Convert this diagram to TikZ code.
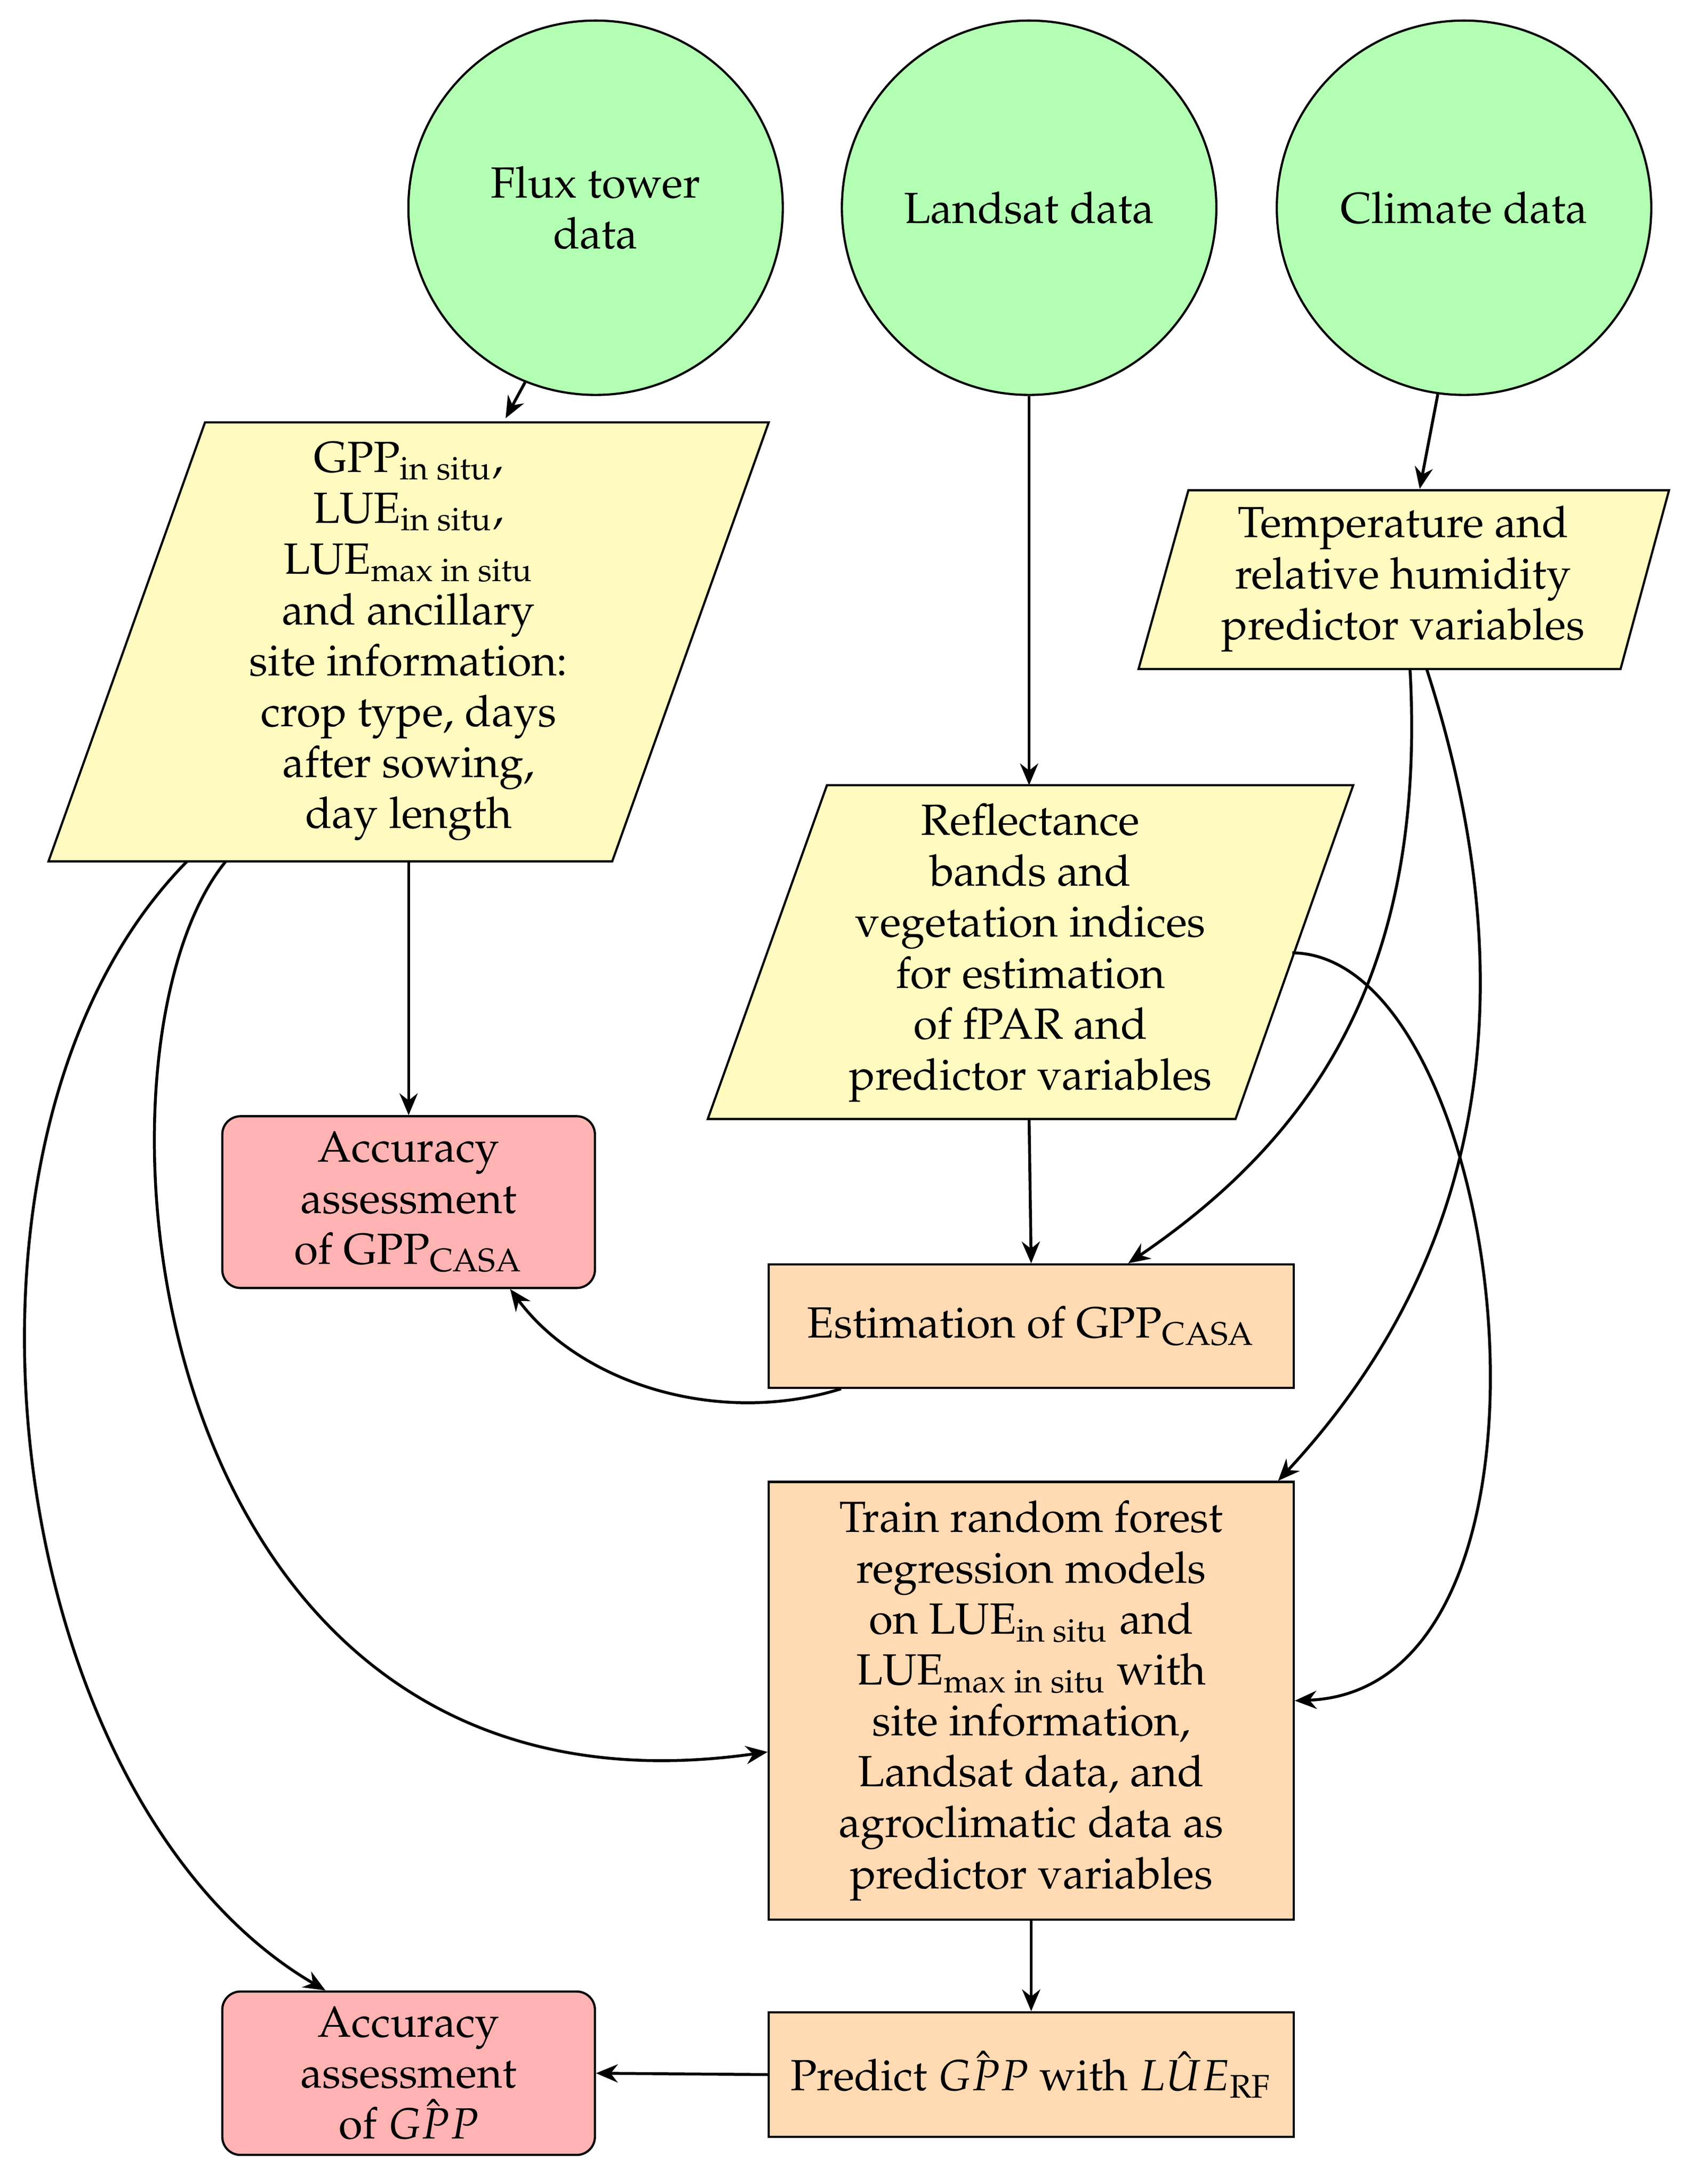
\documentclass[tikz,border=0pt]{standalone}
\usepackage[T1]{fontenc}
\usepackage{amsmath}
\usepackage{mathpazo}
\usetikzlibrary{arrows.meta}
\definecolor{cgreen}{HTML}{B3FFB3}
\definecolor{cyellow}{HTML}{FFFAC0}
\definecolor{corange}{HTML}{FFDAB3}
\definecolor{cred}{HTML}{FFB3B3}
\begin{document}
\begin{tikzpicture}[x=0.381pt,y=-0.381pt,
  circ/.style={circle,draw,fill=cgreen,line width=0.6pt,minimum size=103pt,align=center},
  para/.style={draw,line width=0.6pt,fill=cyellow},
  lbl/.style={align=center,inner sep=0pt},
  box/.style={draw,line width=0.6pt,fill=corange,align=center,inner sep=0pt},
  acc/.style={draw,line width=0.6pt,fill=cred,rounded corners=5pt,align=center,inner sep=0pt},
  arr/.style={-{Stealth[length=6pt,width=5pt]},line width=0.8pt},
  font=\large]
\useasboundingbox (0,0) rectangle (1220,1577);
\node[circ] (flux) at (430,150) {Flux tower\\data};
\node[circ] (land) at (743,150) {Landsat data};
\node[circ] (clim) at (1057,150) {Climate data};
\draw[para] (148,305) -- (555,305) -- (442,622) -- (35,622) -- cycle;
\node[lbl] (p1) at (295,463) {GPP$_{\text{in situ}}$,\\LUE$_{\text{in situ}}$,\\LUE$_{\text{max in situ}}$\\and ancillary\\site information:\\crop type, days\\after sowing,\\day length};
\draw[para] (858,354) -- (1205,354) -- (1170,483) -- (822,483) -- cycle;
\node[lbl] (temp) at (1013,418) {Temperature and\\relative humidity\\predictor variables};
\draw[para] (597,567) -- (977,567) -- (892,808) -- (511,808) -- cycle;
\node[lbl] (refl) at (744,688) {Reflectance\\bands and\\vegetation indices\\for estimation\\of fPAR and\\predictor variables};
\node[acc,minimum width=269*0.381pt,minimum height=124*0.381pt] (acc1) at (295,868) {Accuracy\\assessment\\of GPP$_{\text{CASA}}$};
\node[box,minimum width=379*0.381pt,minimum height=89*0.381pt] (est) at (744.5,957.5) {Estimation of GPP$_{\text{CASA}}$};
\node[box,minimum width=379*0.381pt,minimum height=316*0.381pt] (train) at (744.5,1228) {Train random forest\\regression models\\on LUE$_{\text{in situ}}$ and\\LUE$_{\text{max in situ}}$ with\\site information,\\Landsat data, and\\agroclimatic data as\\predictor variables};
\node[box,minimum width=379*0.381pt,minimum height=90*0.381pt] (pred) at (744.5,1498) {Predict $\hat{GPP}$ with $\hat{LUE}_{\text{RF}}$};
\node[acc,minimum width=269*0.381pt,minimum height=118*0.381pt] (acc2) at (295,1497) {Accuracy\\assessment\\of $\hat{GPP}$};
\coordinate (p1t) at (365,302);
\coordinate (p1b) at (295,622);
\coordinate (p1b1) at (163,622);
\coordinate (p1b2) at (135,622);
\coordinate (reflt) at (743,567);
\coordinate (reflb) at (743,808);
\coordinate (reflr) at (933,688);
\coordinate (tempt) at (1025,353);
\coordinate (tempb1) at (1018,483);
\coordinate (tempb2) at (1030,483);
\draw[arr] (flux.-112) -- (p1t);
\draw[arr] (land.south) -- (reflt);
\draw[arr] (clim.-98) -- (tempt);
\draw[arr] (p1b) -- (acc1.north);
\draw[arr] (reflb) -- (est.north);
\draw[arr] (tempb1) .. controls (1030,700) and (950,820) .. ([xshift=70*0.381pt]est.north);
\draw[arr] (tempb2) .. controls (1100,700) and (1080,900) .. ([xshift=-12*0.381pt]train.north east);
\draw[arr] (reflr) .. controls (1090,690) and (1150,1220) .. (train.east);
\draw[arr] ([xshift=53*0.381pt]est.south west) .. controls (520,1030) and (420,1000) .. ([xshift=-62*0.381pt]acc1.south east);
\draw[arr] (p1b1) .. controls (50,760) and (100,1330) .. ([yshift=-37*0.381pt]train.west);
\draw[arr] (p1b2) .. controls (-60,820) and (0,1300) .. ([xshift=-60*0.381pt]acc2.north);
\draw[arr] (train.south) -- (pred.north);
\draw[arr] (pred.west) -- (acc2.east);
\end{tikzpicture}
\end{document}
